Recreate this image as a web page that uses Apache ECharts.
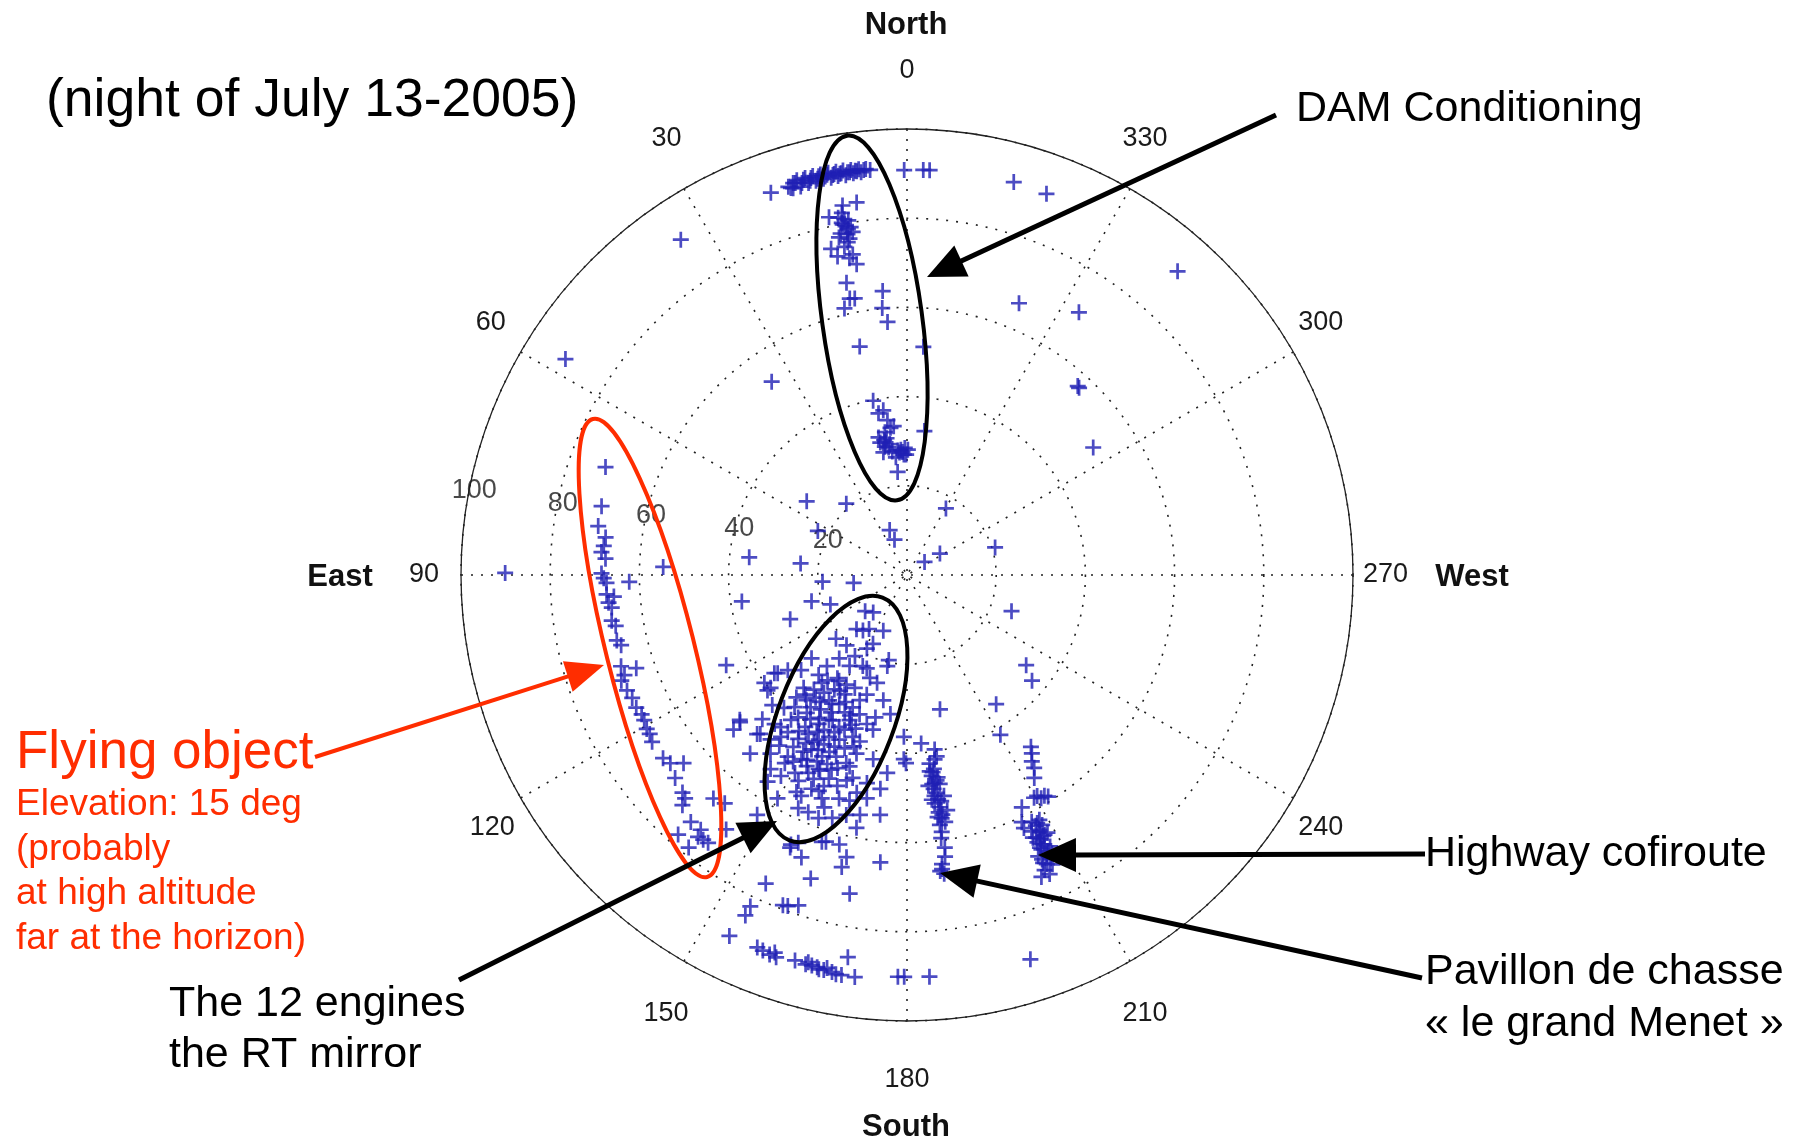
<!DOCTYPE html>
<html><head><meta charset="utf-8">
<script src="https://cdn.jsdelivr.net/npm/echarts@6/dist/echarts.min.js"></script>
<style>html,body{margin:0;padding:0;background:#fff}#c{width:1798px;height:1143px}</style>
</head><body><div id="c"></div>
<script>
// ---------- DATA: [azimuth (deg, from North towards East), zenith distance] ----------
const damPoints = [
 [15.9,91.4],[15.3,90.3],[14.7,91.6],[14.1,90.6],[13.6,91.6],[13.0,90.7],[12.5,91.6],[11.9,90.8],[11.3,91.5],[10.8,90.7],
 [10.3,91.4],[9.8,90.8],[9.3,91.3],[8.7,90.7],[8.1,91.2],[7.6,90.9],[7.1,91.2],[6.1,91.3],[5.2,91.2],[16.4,90.4],[17.0,91.0],
 [15.6,91.9],[15.0,91.0],[14.4,91.9],[13.8,91.0],[13.3,91.9],[12.7,91.1],[12.2,91.9],[11.6,91.2],[11.1,91.9],[10.5,91.2],
 [10.0,91.8],[9.5,91.2],[9.0,91.8],[8.4,91.3],[7.9,91.7],[7.3,91.4],[6.8,91.6],[6.5,90.9],[5.8,91.5],[16.7,90.6],[16.2,91.5],
 [19.6,91.0],[0.4,90.8],[357.7,90.9],[356.8,90.9],
 [10.0,81.0],[12.3,82.1],[9.9,84.1],[7.7,84.3],[9.9,77.6],[13.1,75.1],[12.3,73.1],[9.6,72.9],[9.2,70.6],[10.0,79.4],
 [9.7,78.7],[9.7,76.5],[10.8,74.9],[10.3,72.2],[10.5,80.3],[9.4,80.6],[10.2,82.5],[11.0,78.0],
 [10.4,79.9],[9.2,79.0],[10.9,81.6],[9.0,77.9],[11.4,77.2],[10.1,75.8],
 [11.7,66.9],[11.7,63.3],[13.2,61.4],[10.7,63.1],[4.9,63.9],[5.3,60.1],[4.4,56.9],[11.7,52.3],[355.9,51.3],
 [11.0,39.8],[8.2,37.3],[7.2,35.0],[5.1,33.5],[11.4,30.3],[10.9,28.0],[1.5,27.0],[359.6,28.1],[5.2,23.2],[353.1,32.5],
 [11.7,31.5],[8.2,28.9],[9.2,30.1],[2.8,28.1],[0.4,27.0],[5.4,26.5],[10.0,36.8],[6.4,33.2],[8.5,31.0],[3.5,27.5],[1.0,28.5],[9.8,29.2],
 [9.6,30.7],[7.5,29.6],[4.2,28.0],[6.8,27.9],[2.1,27.6],[8.8,32.4]
];
const flyingPoints = [
 [70.3,71.8],[77.3,70.2],[81.0,70.1],[82.9,68.1],[84.5,68.3],[85.7,68.7],[86.9,67.7],[89.7,68.5],[90.6,68.0],[91.5,67.4],
 [93.7,67.5],[94.2,65.9],[95.3,67.2],[96.3,66.6],[98.8,67.0],[99.9,66.3],[102.7,66.7],[103.8,66.0],[107.7,67.3],[109.0,64.2],
 [109.5,67.2],[110.3,68.3],[112.4,67.9],[114.1,67.5],[116.1,67.6],[117.7,67.2],[118.9,67.3],[120.6,67.8],[121.7,67.8],[123.2,68.3],
 [126.9,68.4],[128.5,67.8],[130.1,65.5],[131.2,69.1],[134.1,70.1],[135.2,70.6],[135.7,72.1],[139.1,66.3],[141.4,65.5],[138.8,73.6],
 [141.0,73.5],[141.4,75.1],[138.6,77.6],[141.3,78.3],[142.4,74.9],[143.4,74.8],[144.6,70.0]
];
const enginePoints = [
 [137.9,11.3],[137.0,16.6],[141.6,15.9],[157.0,13.6],[131.9,21.4],[139.3,20.8],[151.4,18.8],[153.7,17.2],[131.1,28.4],[140.9,24.1],
 [147.3,21.6],[154.1,22.7],[156.7,22.8],[167.9,19.5],[167.8,20.9],[127.2,36.4],[128.6,34.2],[131.9,31.9],[138.5,29.9],[141.7,30.8],
 [147.3,28.2],[151.1,28.1],[164.5,25.1],[127.1,40.1],[129.6,39.7],[137.9,37.0],[139.6,35.2],[143.3,34.3],[148.1,33.1],[152.3,32.7],
 [157.7,32.1],[159.3,30.0],[161.4,28.3],[169.3,28.6],[173.2,31.4],[130.9,49.6],[134.9,45.8],[138.4,44.7],[140.3,44.3],[141.3,41.6],
 [146.2,41.0],[149.3,38.8],[151.7,36.9],[155.9,37.3],[158.4,35.0],[161.2,33.0],[164.9,34.6],[167.6,35.5],[136.7,49.0],[140.3,47.9],
 [142.1,46.0],[146.4,44.1],[148.2,41.9],[151.8,41.9],[154.3,40.3],[157.6,39.9],[161.4,38.3],[138.7,53.3],[142.6,50.4],[146.7,48.7],
 [150.2,47.6],[151.3,44.6],[154.9,44.9],[158.7,43.7],[162.1,44.3],[164.2,41.6],[169.6,42.0],[179.0,41.3],[184.8,37.9],[144.9,53.2],
 [147.9,53.2],[150.5,51.0],[153.5,49.6],[155.5,47.8],[159.0,48.9],[165.0,47.1],[169.1,47.5],[174.3,44.6],[149.9,57.9],[154.4,54.9],
 [155.9,52.5],[159.1,53.6],[163.1,52.4],[167.0,50.1],[169.8,50.9],[172.9,48.3],[148.0,63.4],[155.0,57.7],[157.4,57.6],[160.0,58.0],
 [162.9,57.0],[165.8,55.5],[168.9,54.8],[173.6,54.1],[163.1,62.5],[165.9,62.3],[168.7,57.8],[156.7,65.8],
 [137.5,34.3],[140.9,33.1],[144.8,32.3],[147.6,30.4],[152.4,30.2],[143.9,36.7],[147.3,35.8],[151.1,35.2],[155.6,33.8],[142.6,40.2],
 [146.2,38.9],[151.8,39.4],[155.2,38.8],[158.0,37.4],[150.8,42.8],[153.9,42.3],[157.1,41.8],[160.2,41.3],[146.5,46.2],[149.6,45.9],
 [154.2,46.4],[157.1,46.0],[160.2,46.0],[152.3,48.4],[148.6,49.0],[155.4,50.3],[161.7,49.8],[163.3,44.8],[164.2,38.8],[159.7,35.8],
 [155.2,27.9],[146.0,27.9],[138.7,27.2],[147.7,24.1],[160.2,24.5],[167.5,32.7],[142.8,44.2],[152.2,52.2],[157.8,52.3],[165.7,52.2],
 [144.0,38.2],[148.5,37.6],[152.9,36.6],[150.1,40.6],[145.3,42.6],[149.0,44.0],[153.0,44.0],[156.3,43.3],[151.6,47.1],[156.0,48.0],
 [158.8,46.8],[143.2,47.8],[147.0,50.3],[139.6,38.9],[141.2,36.0],[145.5,34.5],[149.8,33.4],[154.3,31.6],[157.9,34.0],[161.5,36.3],
 [162.8,40.2],[150.0,30.0],[143.0,29.6],[158.5,50.9],[153.0,54.6],[146.0,55.9],[160.4,55.3],[137.2,40.6],[134.0,42.0],[163.6,48.0]
];
const pavillonPoints = [
 [189.0,39.6],[189.3,41.2],[188.5,41.8],[187.9,43.9],[186.6,44.3],[187.0,45.4],[187.6,47.0],[185.8,47.5],[187.1,48.3],[187.1,49.9],
 [189.5,50.2],[186.9,51.6],[187.6,53.7],[189.7,53.5],[188.1,55.1],[187.5,56.5],[187.7,58.1],[187.9,61.7],[187.7,63.7],[186.9,65.3],
 [186.8,66.4],[187.1,67.5],[188.1,52.6],[187.8,49.3],[186.4,66.8],[188.6,45.9],[186.3,50.7],[188.9,47.4],[188.4,54.3],[186.8,42.6],
 [187.4,44.6],[188.2,46.5],[186.9,47.2],[187.9,50.8],[188.6,51.3],[187.2,54.7],[188.8,56.0],[187.4,59.5]
];
const highwayPoints = [
 [215.8,47.5],[215.0,48.8],[213.8,50.3],[213.4,51.8],[212.1,53.7],[210.5,57.5],[211.9,58.3],[209.7,57.5],[211.0,58.4],[212.5,58.9],
 [206.3,58.1],[204.9,61.1],[204.8,62.5],[208.4,62.4],[208.4,63.7],[207.5,64.4],[207.9,65.9],[206.8,66.4],[207.0,67.8],[206.1,68.5],
 [206.6,70.0],[205.4,70.6],[205.8,72.0],[205.0,73.0],[204.0,74.1],[207.7,62.8],[208.6,65.8],[206.0,66.7],[207.1,69.6],[205.0,69.6],
 [207.3,64.9],[206.4,67.4],[206.9,71.2],[207.8,68.8],[205.6,65.3],
 [206.2,65.6],[207.6,66.0],[206.0,68.0],[207.5,70.4],[205.3,71.4],[206.7,72.6],[205.5,74.3],[207.2,63.2],[206.8,62.0],[205.9,63.9]
];
const southPoints = [
 [156.8,66.5],[157.9,64.8],[162.3,62.8],[159.5,67.6],[167.9,64.7],[167.4,67.1],[174.7,64.7],[162.4,71.4],[155.4,76.1],[169.8,72.6],
 [154.7,82.2],[154.6,84.5],[159.4,79.1],[160.2,78.9],[161.8,78.0],[153.8,90.2],[158.1,90.0],[160.1,90.5],[161.1,90.6],[160.7,89.7],
 [163.8,90.0],[165.4,90.2],[166.3,90.1],[167.1,90.2],[167.4,90.6],[169.3,90.6],[169.9,90.9],[170.7,90.9],[172.6,90.9],[171.2,86.7],
 [178.7,90.1],[179.6,90.1],[183.2,90.2],[159.0,90.2],[168.1,90.5],[168.5,89.9],[165.7,89.6]
];
const otherPoints = [
 [89.7,90.1],[91.4,62.3],[88.1,54.7],[83.6,35.6],[99.1,37.5],[116.5,45.3],[129.6,40.6],[131.4,49.9],[131.7,52.1],[137.3,48.5],
 [126.5,37.0],[34.0,90.7],[57.7,90.6],[35.0,52.9],[53.7,27.9],[40.4,21.0],[63.7,22.3],[83.8,24.0],[94.5,19.0],[98.5,12.1],
 [105.4,22.2],[111.0,18.4],[110.7,28.0],[130.8,12.4],[144.9,14.8],[329.7,17.3],[287.4,20.7],[21.1,10.8],[19.5,8.4],[303.0,8.8],
 [306.6,4.9],[318.3,91.2],[337.6,65.9],[326.8,70.4],[317.4,57.0],[317.9,57.1],[304.4,50.6],[250.9,24.8],[232.9,33.5],[229.8,36.7],
 [214.6,35.2],[193.8,31.0],[210.3,41.5],[178.9,36.3],[179.7,42.2],[197.8,90.5],[344.8,91.3],[339.9,91.0]
];
const angleTicks = [0,30,60,90,120,150,180,210,240,270,300,330];
const ringTicks = [20,40,60,80,100];
const ringLabelAzimuth = 82;

// ---------- CHART ----------
const chart = echarts.init(document.getElementById('c'), null, {renderer:'canvas'});
const BLUE = '#1f1fb4', RED = '#ff2d00';
const FONT = '"Liberation Sans", Arial, sans-serif';
const plusPath = 'path://M41.5,0H58.5V41.5H100V58.5H58.5V100H41.5V58.5H0V41.5H41.5Z';

// padding [top,right,bottom,left] that moves each angle label to its place
const labelPad = {0:[0,0,60,0],30:[0,10,50,0],330:[0,0,50,0],60:[0,28,23,0],300:[0,0,23,18],
                  90:[0,37,0,0],270:[0,0,0,25],120:[24,19,0,0],240:[24,0,0,18],
                  150:[52,3,0,0],210:[52,0,0,0],180:[60,0,0,0]};
const rich = {};
angleTicks.forEach(v => { rich['p'+v] = {padding: labelPad[v], fontSize:27, fontFamily:FONT, color:'#1a1a1a'}; });

function toPolar(pts){ return pts.map(p => [p[1], p[0]]); }
function scatter(name, pts){
  return {name, type:'scatter', coordinateSystem:'polar', data: toPolar(pts), symbol: plusPath, symbolSize: 16,
          itemStyle:{color: BLUE}, silent:true, z:3};
}

function arrow(x1,y1,x2,y2,color,lw,hl,hw){
  const dx=x2-x1, dy=y2-y1, L=Math.hypot(dx,dy), ux=dx/L, uy=dy/L;
  const bx=x2-ux*hl, by=y2-uy*hl, nx=-uy, ny=ux;
  return [
    {type:'line', z:100, shape:{x1, y1, x2:bx+ux*2, y2:by+uy*2}, style:{stroke:color, lineWidth:lw}},
    {type:'polygon', z:100, shape:{points:[[x2,y2],[bx+nx*hw,by+ny*hw],[bx-nx*hw,by-ny*hw]]}, style:{fill:color}}
  ];
}
function ell(cx,cy,rx,ry,deg,color){
  return {type:'ellipse', z:100, x:cx, y:cy, rotation: deg*Math.PI/180, shape:{cx:0, cy:0, rx, ry},
          style:{fill:'none', stroke:color, lineWidth:4}};
}
function txt(x,y,text,size,color){
  return {type:'text', z:100, x, y, style:{text, font: size+'px '+FONT, fill:color,
          textAlign:'left', textVerticalAlign:'middle'}};
}
function card(x,y,text){
  return {type:'text', z:100, x, y, style:{text, font:'bold 31px '+FONT, fill:'#111', textAlign:'center', textVerticalAlign:'middle'}};
}

const graphics = [].concat(
  [txt(46,101,'(night of July 13-2005)',53.5,'#000'),
   txt(1296,109,'DAM Conditioning',43,'#000'),
   txt(1425,854,'Highway cofiroute',43,'#000'),
   txt(1425,972,'Pavillon de chasse',43,'#000'),
   txt(1425,1024,'\u00ab le grand Menet \u00bb',43,'#000'),
   txt(169,1004,'The 12 engines',43,'#000'),
   txt(169,1055,'the RT mirror',43,'#000'),
   txt(16,753,'Flying object',53,RED),
   txt(16,805,'Elevation: 15 deg',37,RED),
   txt(16,850,'(probably',37,RED),
   txt(16,894,'at high altitude',37,RED),
   txt(16,939,'far at the horizon)',37,RED),
   card(906,25,'North'), card(906,1127,'South'), card(340,577,'East'), card(1472,577,'West'),
   ell(872,318,50,184,7.8,'#000'),
   ell(836,719,58,130,-21,'#000'),
   ell(650,648,44,236,14,RED)],
  arrow(1276,115,927,277,'#000',5,38,17),
  arrow(315,757,604,665,RED,4,38,16),
  arrow(459,980,777,821,'#000',5,38,17),
  arrow(1425,854,1038,855,'#000',5,38,17),
  arrow(1422,978,940,873,'#000',5,38,17)
);

const option = {
  animation:false,
  backgroundColor:'#ffffff',
  polar:{center:[907,575], radius:446},
  angleAxis:{
    type:'value', min:0, max:360, interval:30, startAngle:90, clockwise:false,
    axisLine:{show:true, lineStyle:{color:'#222', width:1.3}},
    axisTick:{show:false},
    axisLabel:{show:true, margin:-15, formatter: v => '{p'+v+'|'+v+'}', rich},
    splitLine:{show:true, lineStyle:{color:'#222', width:1.6, type:[2,8]}}
  },
  radiusAxis:{
    type:'value', min:0, max:100, interval:20,
    axisLine:{show:false}, axisTick:{show:false}, axisLabel:{show:false},
    splitLine:{show:true, lineStyle:{color:'#222', width:1.6, type:[2,8]}}
  },
  series:[
    {name:'ring labels', type:'scatter', coordinateSystem:'polar', silent:true, symbolSize:1,
     itemStyle:{color:'rgba(0,0,0,0)'},
     data: ringTicks.map(v => [v, ringLabelAzimuth]),
     label:{show:true, position:'inside', offset:[9,-22], formatter: p => String(p.value[0]),
            fontSize:27, fontFamily:FONT, color:'#1a1a1a'}},
    scatter('DAM', damPoints),
    scatter('Flying', flyingPoints),
    scatter('Engines', enginePoints),
    scatter('Pavillon', pavillonPoints),
    scatter('Highway', highwayPoints),
    scatter('South', southPoints),
    scatter('Other', otherPoints)
  ],
  graphic: graphics
};
chart.setOption(option);
</script></body></html>
